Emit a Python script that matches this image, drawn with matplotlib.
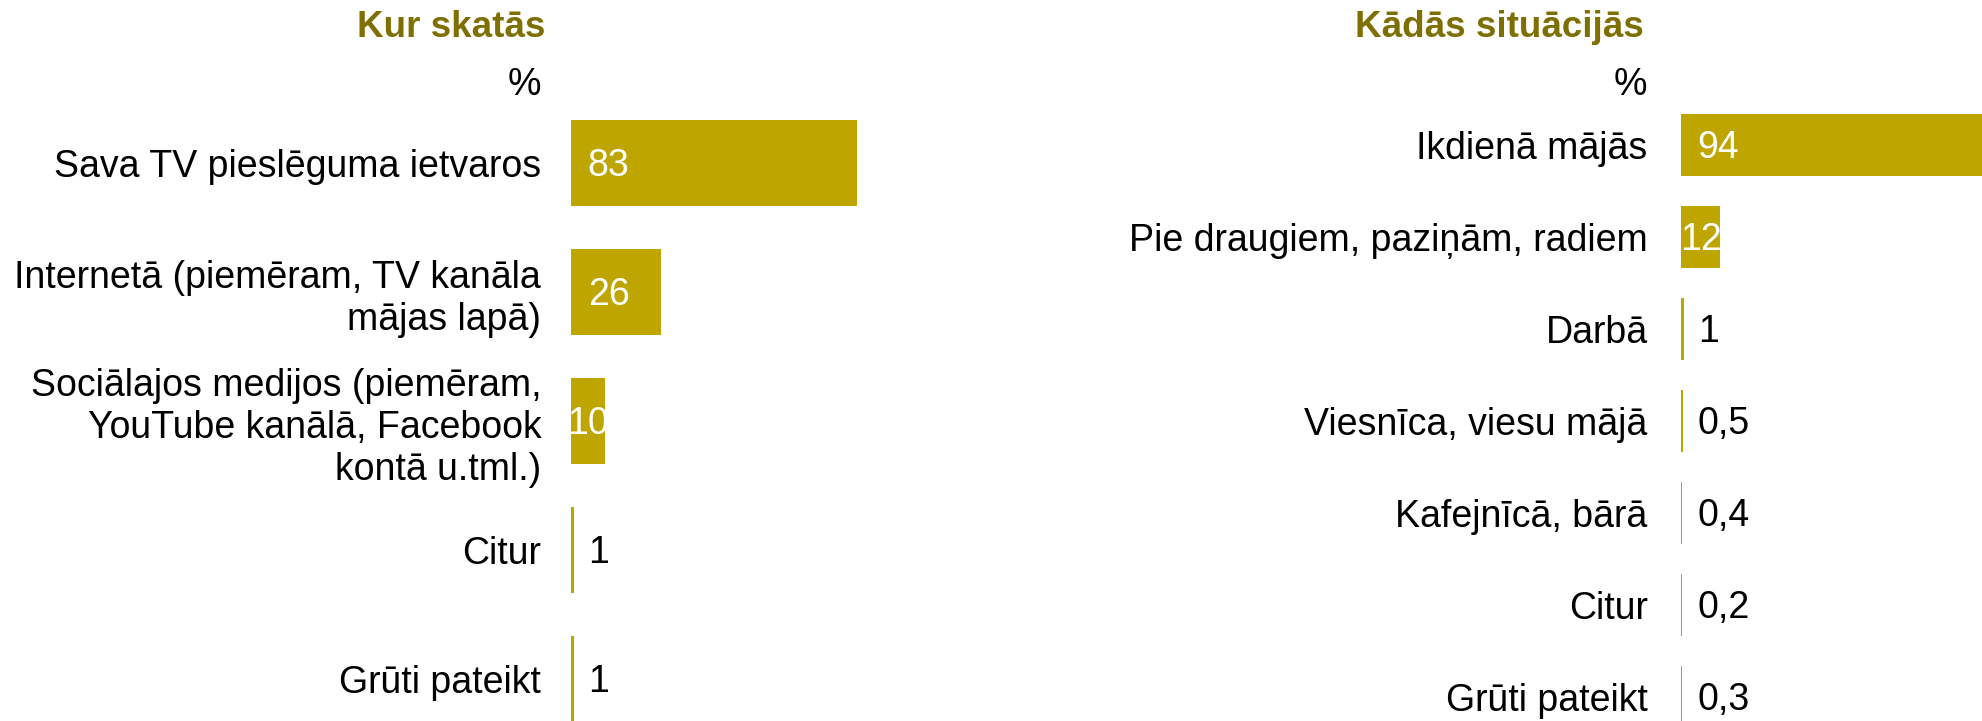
import matplotlib
matplotlib.use("Agg")
import matplotlib.pyplot as plt

plt.rcParams['font.family'] = ['Liberation Sans', 'DejaVu Sans']

bar_color = '#BFA500'
title_color = '#7F6E00'

left_title = 'Kur skatās'
left_cats = ['Sava TV pieslēguma ietvaros',
             'Internetā (piemēram, TV kanāla\nmājas lapā)',
             'Sociālajos medijos (piemēram,\nYouTube kanālā, Facebook\nkontā u.tml.)',
             'Citur',
             'Grūti pateikt']
left_vals = [83, 26, 10, 1, 1]

right_title = 'Kādās situācijās'
right_cats = ['Ikdienā mājās',
              'Pie draugiem, paziņām, radiem',
              'Darbā',
              'Viesnīca, viesu mājā',
              'Kafejnīcā, bārā',
              'Citur',
              'Grūti pateikt']
right_vals = [94, 12, 1, 0.5, 0.4, 0.2, 0.3]

W, H = 1982, 721
FS = 27
fig = plt.figure(figsize=(W / 100, H / 100), dpi=100)


def fmt(v):
    return ('%g' % v).replace('.', ',')


def panel(x0_px, w_px, xmax, first_px, step_px, cats, vals, pad, bh):
    # axes spans full height, rows placed via ylim in pixel terms
    ax = fig.add_axes([x0_px / W, 0, w_px / W, 1])
    n = len(cats)
    ypos = list(range(n))
    ax.barh(ypos, vals, height=bh, color=bar_color)
    ax.set_xlim(0, xmax)
    ax.set_ylim((H - first_px) / step_px, -first_px / step_px)
    ax.set_yticks(ypos)
    ax.set_yticklabels(cats, fontsize=FS, color='black', linespacing=1.22)
    ax.tick_params(axis='y', length=0, pad=pad)
    ax.set_xticks([])
    for s in ax.spines.values():
        s.set_visible(False)
    for y, v in zip(ypos, vals):
        if v >= 20:
            x, dx, ha, col = 0, 12, 'left', 'white'
        elif v >= 10:
            # narrow bar: label centred on the bar
            x, dx, ha, col = v / 2, 0, 'center', 'white'
        else:
            x, dx, ha, col = 0, 12, 'left', 'black'
        ax.annotate(fmt(v), (x, y), xytext=(dx, -9.3), textcoords='offset points',
                    ha=ha, va='baseline', fontsize=FS, color=col)
    return ax


panel(571, 429, 124.5, 163, 129, left_cats, left_vals, 21.5, 0.66)
panel(1681, 301, 91.5, 145, 92, right_cats, right_vals, 24, 0.67)

fig.text(545 / W, 1 - 37 / H, left_title, ha='right', va='baseline',
         fontsize=26.5, fontweight='bold', color=title_color)
fig.text(541 / W, 1 - 95 / H, '%', ha='right', va='baseline', fontsize=FS)
fig.text(1644 / W, 1 - 37 / H, right_title, ha='right', va='baseline',
         fontsize=26.5, fontweight='bold', color=title_color)
fig.text(1647 / W, 1 - 95 / H, '%', ha='right', va='baseline', fontsize=FS)

fig.savefig('out.png', dpi=100)
